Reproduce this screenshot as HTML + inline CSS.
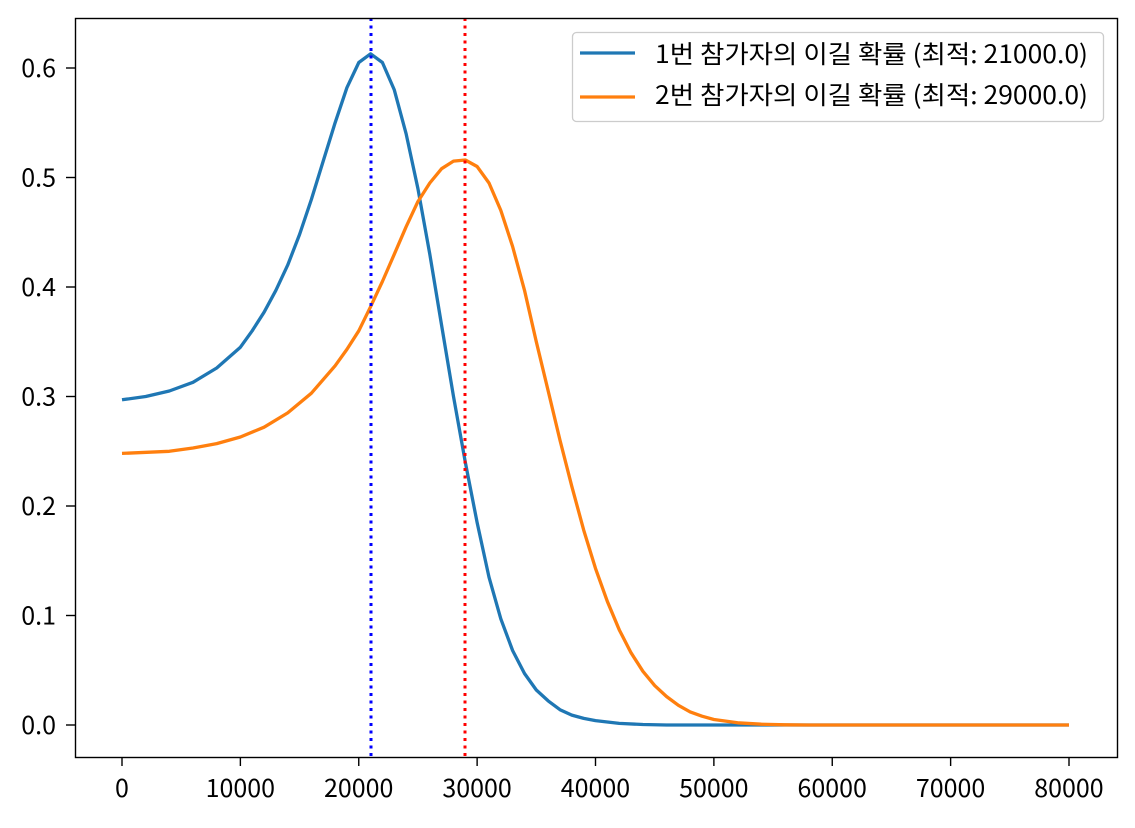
<!DOCTYPE html>
<html><head><meta charset="utf-8"><style>
html,body{margin:0;padding:0;background:#fff;}
svg text{font-family:"Noto Sans CJK KR","Liberation Sans",sans-serif;fill:#000;}
</style></head><body>
<svg id="s" width="1135" height="823" viewBox="0 0 1135 823" xmlns="http://www.w3.org/2000/svg">
<rect x="0" y="0" width="1135" height="823" fill="#fff"/>
<g id="plot"></g>
<line x1="371" y1="18" x2="371" y2="757" stroke="#0000ff" stroke-width="3" stroke-dasharray="3,4.5"/>
<line x1="465" y1="18" x2="465" y2="757" stroke="#ff0000" stroke-width="3" stroke-dasharray="3,4.5"/>
<rect x="75.5" y="18.5" width="1042" height="739" fill="none" stroke="#000" stroke-width="1.4"/>
<g id="ticks" font-size="25"></g>
<rect x="572.5" y="32.5" width="531" height="89" rx="4" fill="#fff" fill-opacity="0.8" stroke="#ccc" stroke-width="1.3"/>
<line x1="580" y1="53" x2="635" y2="53" stroke="#1f77b4" stroke-width="3.3"/>
<line x1="580" y1="97" x2="635" y2="97" stroke="#ff7f0e" stroke-width="3.3"/>
<text x="655" y="63" font-size="25" textLength="433" lengthAdjust="spacingAndGlyphs">1번 참가자의 이길 확률 (최적: 21000.0)</text>
<text x="655" y="104" font-size="25" textLength="433" lengthAdjust="spacingAndGlyphs">2번 참가자의 이길 확률 (최적: 29000.0)</text>
</svg>
<script>
const X=v=>122+v*(947/80000), Y=v=>725-v*1095;
const ns="http://www.w3.org/2000/svg";
function pts(d){let a=[];for(let i=0;i<d.length;i+=2)a.push(X(d[i]*1000).toFixed(1)+","+Y(d[i+1]).toFixed(1));return a.join(" ");}
const b=[0,.297,2,.300,4,.305,6,.313,8,.326,10,.345,11,.36,12,.377,13,.397,14,.42,15,.448,16,.48,17,.515,18,.55,19,.582,20,.605,21,.613,22,.605,23,.58,24,.54,25,.49,26,.43,27,.365,28,.30,29,.24,30,.185,31,.135,32,.097,33,.068,34,.047,35,.032,36,.022,37,.014,38,.009,39,.006,40,.004,42,.0015,44,.0005,46,0,80,0];
const o=[0,.248,4,.250,6,.253,8,.257,10,.263,12,.272,14,.285,16,.303,18,.328,19,.343,20,.36,21,.382,22,.405,23,.43,24,.455,25,.478,26,.495,27,.508,28,.515,29,.516,30,.51,31,.495,32,.47,33,.437,34,.397,35,.35,36,.305,37,.26,38,.218,39,.178,40,.143,41,.113,42,.087,43,.066,44,.049,45,.036,46,.026,47,.018,48,.012,49,.008,50,.005,52,.002,54,.0007,56,.0002,58,0,80,0];
const g=document.getElementById("plot");
[[b,"#1f77b4"],[o,"#ff7f0e"]].forEach(([d,c])=>{const p=document.createElementNS(ns,"polyline");p.setAttribute("points",pts(d));p.setAttribute("fill","none");p.setAttribute("stroke",c);p.setAttribute("stroke-width","3.3");p.setAttribute("stroke-linejoin","round");g.appendChild(p);});
const t=document.getElementById("ticks");
function add(tag,attrs,txt){const e=document.createElementNS(ns,tag);for(const k in attrs)e.setAttribute(k,attrs[k]);if(txt!==undefined)e.textContent=txt;t.appendChild(e);}
for(let i=0;i<=8;i++){const x=X(i*10000);add("line",{x1:x,y1:757,x2:x,y2:766,stroke:"#000","stroke-width":1.4});add("text",{x:x,y:797,"text-anchor":"middle"},String(i*10000));}
for(let i=0;i<=6;i++){const y=Y(i/10);add("line",{x1:66,y1:y,x2:75,y2:y,stroke:"#000","stroke-width":1.4});add("text",{x:56,y:y+9,"text-anchor":"end"},(i/10).toFixed(1));}
</script>
</body></html>
